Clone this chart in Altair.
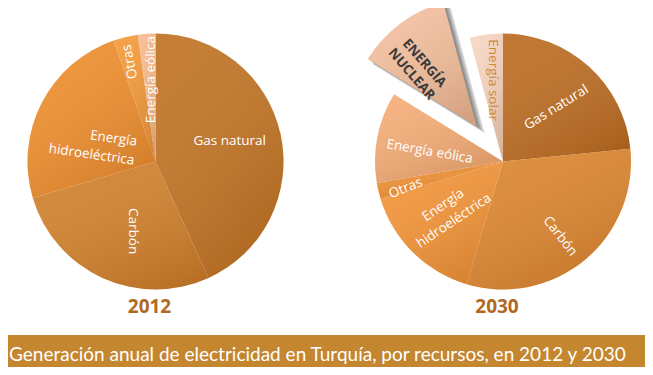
import altair as alt
import pandas as pd

# ---------------- data ----------------
years = ["2012"] * 5 + ["2030"] * 7
categories = [
    "Gas natural", "Carbón", "Energía hidroeléctrica", "Otras", "Energía eólica",
    "Gas natural", "Carbón", "Energía hidroeléctrica", "Otras", "Energía eólica",
    "Energía nuclear", "Energía solar",
]
values = [43.2, 27.2, 24.3, 3.1, 2.2,
          23.4, 31.2, 15.7, 2.0, 11.5, 12.0, 4.2]
labels = [
    "Gas natural", "Carbón", "Energía\nhidroeléctrica", "Otras", "Energía eólica",
    "Gas natural", "Carbón", "Energía\nhidroeléctrica", "Otras", "Energía eólica",
    "ENERGÍA\nNUCLEAR", "Energía solar",
]
title_text = "Generación anual de electricidad en Turquía, por recursos, en 2012 y 2030"

# ---------------- styles / layout ----------------
slice_colors = ["#c07426", "#d0822e", "#ee8f30", "#f39b3c", "#f7bb8e",
                "#bb6d24", "#dc8731", "#f2953a", "#ee9135", "#f4ad78", "#f3c0a0", "#f7d5c2"]
explode = [0, 0, 0, 0, 0, 0, 0, 0, 0, 0, 44, 0]
label_frac = [0.48, 0.43, 0.72, 0.42, 0.6,
              0.53, 0.52, 0.66, 0.22, 0.42, 0.43, 0.54]
label_r = [77, 73, 27, 103, 82,
           76, 94, 74, 101, 74, 82, 82]
label_rot = [0, 90, 8, 259, 270,
             328, 52, 326, 338, 10, 49, 90]
label_align = ["center", "center", "right", "center", "center",
               "center", "center", "center", "center", "center", "center", "center"]
label_color = ["white"] * 10 + ["#3a3a3a", "#c98b3c"]
label_bold = [False] * 10 + [True, False]
order = list(range(5)) + list(range(7))

df = pd.DataFrame(dict(year=years, cat=categories, value=values, label=labels,
                       color=slice_colors, explode=explode, frac=label_frac,
                       lr=label_r, rot=label_rot, lcolor=label_color,
                       bold=label_bold, lalign=label_align, order=order))

R = 128
FONT = "Open Sans"

base = (
    alt.Chart(df)
    .transform_joinaggregate(total="sum(value)", groupby=["year"])
    .transform_window(cum="sum(value)", sort=[alt.SortField("order", order="ascending")],
                      groupby=["year"], frame=[None, 0])
    .transform_calculate(t0="2*PI*(datum.cum-datum.value)/datum.total")
    .transform_calculate(t1="2*PI*datum.cum/datum.total")
    .transform_calculate(mid="(datum.t0+datum.t1)/2")
    .transform_calculate(cx="datum.year=='2012' ? 147.5 : 495")
    .transform_calculate(cy="153.5")
    .transform_calculate(px="datum.cx + datum.explode*sin(datum.mid)")
    .transform_calculate(py="datum.cy - datum.explode*cos(datum.mid)")
    .transform_calculate(la="datum.t0 + datum.frac*(datum.t1-datum.t0)")
    .transform_calculate(lx="datum.px + datum.lr*sin(datum.la)")
    .transform_calculate(ly="datum.py - datum.lr*cos(datum.la)")
)

pos = dict(
    x=alt.X("px:Q", scale=None, axis=None),
    y=alt.Y("py:Q", scale=None, axis=None),
    theta=alt.Theta("t0:Q", scale=None),
    theta2=alt.Theta2("t1:Q"),
)

shadows = [
    base.transform_filter("datum.explode > 0").mark_arc(
        radius=R + k, fill="#1e1e1e", opacity=0.16, xOffset=2 + 2 * k, yOffset=1 + 2 * k
    ).encode(**pos)
    for k in (0, 1, 2, 3)
]

slices = base.mark_arc(radius=R).encode(color=alt.Color("color:N", scale=None), **pos)

shade = base.mark_arc(
    radius=R,
    fill=alt.LinearGradient(
        gradient="linear",
        stops=[alt.GradientStop(color="rgba(255,255,255,0.07)", offset=0),
               alt.GradientStop(color="rgba(90,40,0,0.20)", offset=1)],
        x1=0.2, y1=0, x2=0.8, y2=1,
    ),
).encode(**pos)

txt_enc = dict(
    x=alt.X("lx:Q", scale=None, axis=None),
    y=alt.Y("ly:Q", scale=None, axis=None),
    angle=alt.Angle("rot:Q", scale=None),
    color=alt.Color("lcolor:N", scale=None),
    text="label:N",
)

labels_center = base.transform_filter("!datum.bold && datum.lalign == 'center'").mark_text(
    font=FONT, fontSize=13.5, align="center", baseline="middle", lineBreak="\n", lineHeight=19
).encode(**txt_enc)

labels_right = base.transform_filter("!datum.bold && datum.lalign == 'right'").mark_text(
    font=FONT, fontSize=13.5, align="right", baseline="middle", lineBreak="\n", lineHeight=19
).encode(**txt_enc)

labels_bold = base.transform_filter("datum.bold").mark_text(
    font=FONT, fontSize=13.5, fontWeight="bold", align="center", baseline="middle",
    lineBreak="\n", lineHeight=17
).encode(**txt_enc)

year_labels = (
    base.transform_filter("datum.order == 0")
    .transform_calculate(yx="datum.cx - 6")
    .mark_text(font=FONT, fontSize=19, fontWeight="bold", color="#b0691f",
               align="center", baseline="middle")
    .encode(x=alt.X("yx:Q", scale=None, axis=None), y=alt.value(299), text="year:N")
)

banner_df = pd.DataFrame({"t": [title_text]})
banner = alt.Chart(banner_df).mark_rect(color="#c4862f").encode(
    x=alt.value(-10), x2=alt.value(660), y=alt.value(327), y2=alt.value(380)
)
banner_text = alt.Chart(banner_df).mark_text(
    font="Lato", fontSize=19, color="white", align="left", baseline="middle"
).encode(x=alt.value(1), y=alt.value(347), text="t:N")

chart = alt.layer(
    *shadows, slices, shade, labels_center, labels_right, labels_bold, year_labels,
    banner, banner_text
).properties(
    width=637, height=359, padding=0, autosize=alt.AutoSizeParams(type="none")
).configure_view(strokeWidth=0)

chart.save("out.html", embed_options={"renderer": "svg", "actions": False})
